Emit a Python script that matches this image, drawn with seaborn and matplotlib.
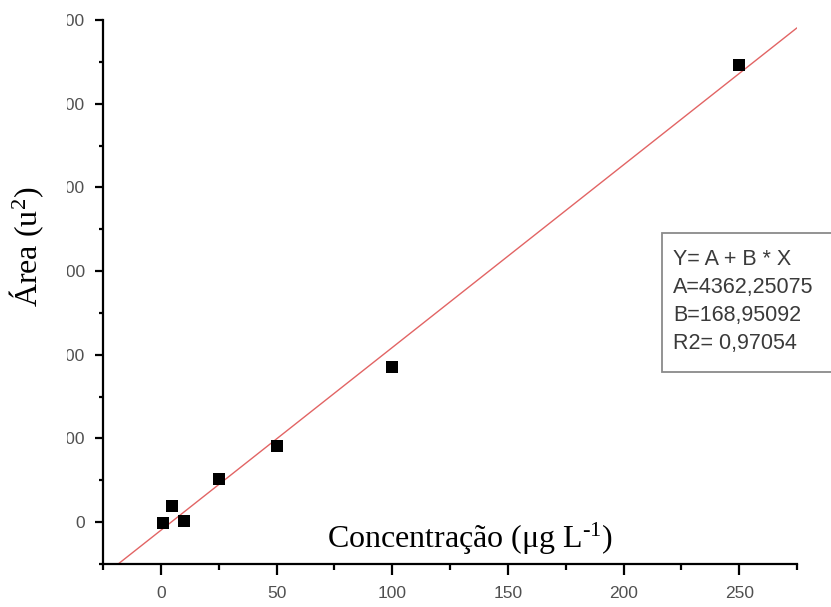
import numpy as np
import pandas as pd
import matplotlib
matplotlib.use("Agg")
import matplotlib.pyplot as plt
from matplotlib.patches import Rectangle
from matplotlib.ticker import MultipleLocator, AutoMinorLocator
import seaborn as sns

# Calibration data: concentration (µg/L) vs. peak area
concentracao = [1, 5, 10, 25, 50, 100, 250]
area = [-60, 1580, 100, 4130, 7250, 14870, 43700]

eq_lines = ["Y= A + B * X", "A=4362,25075", "B=168,95092", "R2= 0,97054"]

x_lim = (-25, 275)
y_lim = (-4000, 48000)

df = pd.DataFrame({"conc": concentracao, "area": area})

sns.set_style("ticks")
plt.rcParams["font.family"] = ["Liberation Sans", "DejaVu Sans"]
plt.rcParams["mathtext.fontset"] = "custom"
plt.rcParams["mathtext.rm"] = "Liberation Serif"
plt.rcParams["mathtext.it"] = "Liberation Serif:italic"

W, H = 831, 607
fig = plt.figure(figsize=(W / 100, H / 100), dpi=100)
ax = fig.add_axes([103 / W, 1 - 564 / H, (797 - 103) / W, (564 - 20) / H])

ax.set_xlim(*x_lim)
ax.set_ylim(*y_lim)

# least-squares calibration line across the full x range
sns.regplot(data=df, x="conc", y="area", ax=ax, scatter=False, ci=None,
            truncate=False, line_kws=dict(color="#e26464", lw=1.0, zorder=2))
sns.scatterplot(data=df, x="conc", y="area", ax=ax, marker="s", s=72,
                color="black", edgecolor="black", linewidth=0, zorder=3)

ax.set_xlim(*x_lim)
ax.set_ylim(*y_lim)
ax.set_xlabel("")
ax.set_ylabel("")

ax.xaxis.set_major_locator(MultipleLocator(50))
ax.xaxis.set_minor_locator(AutoMinorLocator(2))
ax.yaxis.set_major_locator(MultipleLocator(8000))
ax.yaxis.set_minor_locator(AutoMinorLocator(2))

for s in ("top", "right"):
    ax.spines[s].set_visible(False)
for s in ("left", "bottom"):
    ax.spines[s].set_linewidth(1.6)
    ax.spines[s].set_color("black")

ax.tick_params(axis="x", which="major", length=8, width=1.6, pad=8,
               labelsize=12.5, labelcolor="#505050", color="black")
ax.tick_params(axis="x", which="minor", length=4.5, width=1.6, color="black")
ax.tick_params(axis="y", which="major", length=6, width=1.6, pad=7,
               labelsize=12.5, labelcolor="#505050", color="black")
ax.tick_params(axis="y", which="minor", length=3, width=1.6, color="black")
ax.grid(False)

# white panel behind the y-axis title
cover = Rectangle((0, 0), 67 / W, 1, transform=fig.transFigure,
                  facecolor="white", edgecolor="none", zorder=5)
fig.add_artist(cover)

fig.text(27 / W, 1 - 247 / H, r"Área (u$^{2}$)", rotation=90,
         ha="center", va="center", fontsize=23,
         family="Liberation Serif", color="black", zorder=6)
fig.text(470 / W, 1 - 548 / H, r"Concentração (μg L$^{\text{-}1}$)",
         ha="center", va="baseline", fontsize=23,
         family="Liberation Serif", color="black", zorder=6)

# fit-parameter box
box = Rectangle((662 / W, 1 - 372 / H), 200 / W, (372 - 233) / H,
                transform=fig.transFigure, facecolor="white",
                edgecolor="#8a8a8a", linewidth=1.3, zorder=5)
fig.add_artist(box)
fig.text(673 / W, 1 - 249 / H, "\n".join(eq_lines), ha="left", va="top",
         fontsize=15.5, color="#3a3a3a", linespacing=1.43, zorder=6)

fig.savefig("out.png", dpi=100)
